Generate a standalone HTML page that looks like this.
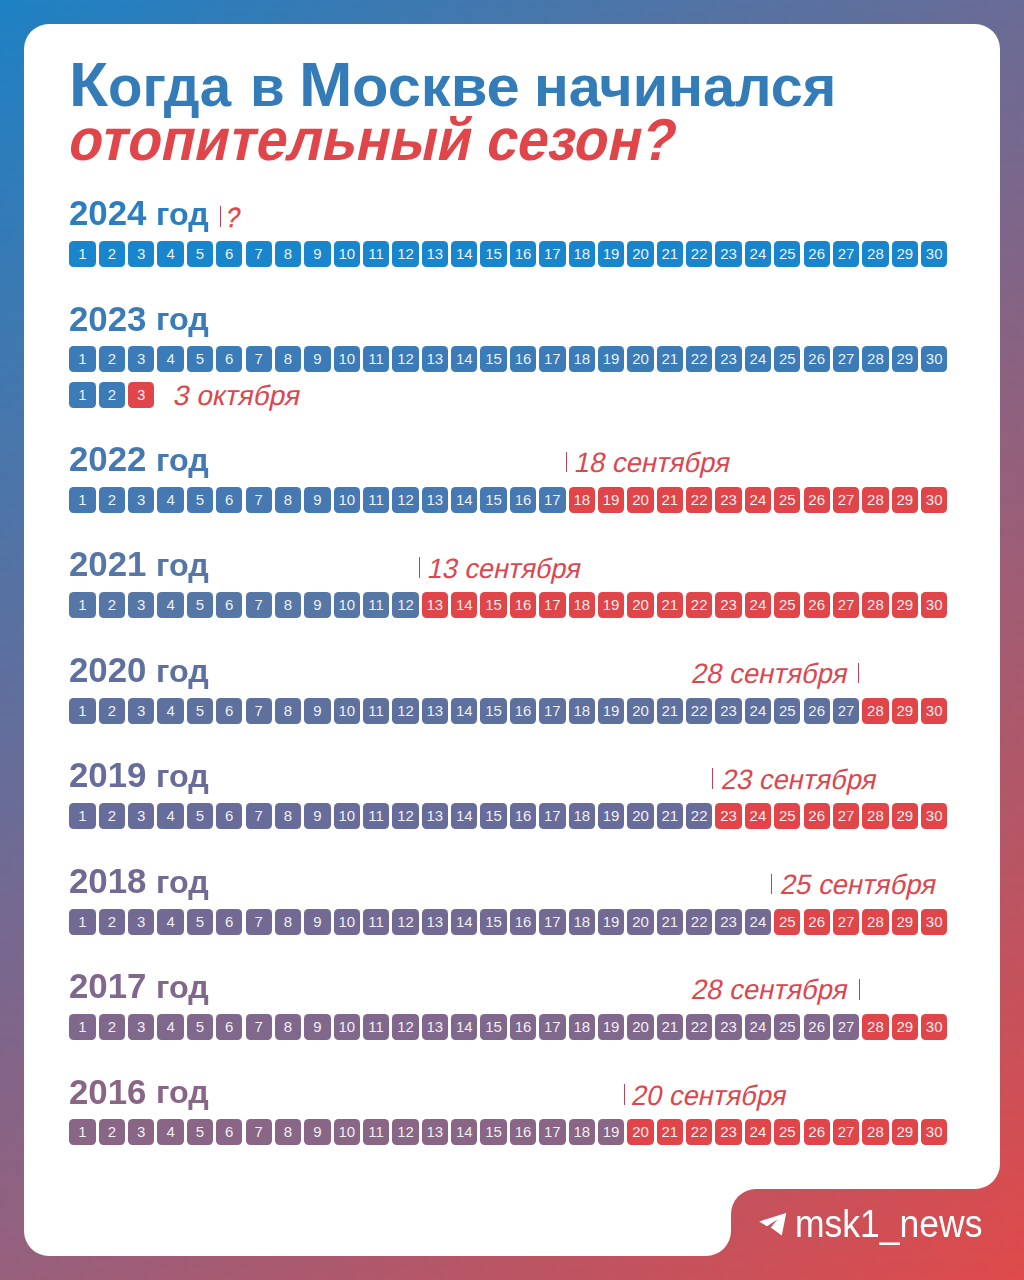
<!DOCTYPE html>
<html><head><meta charset="utf-8"><style>
*{margin:0;padding:0;box-sizing:border-box}
html,body{width:1024px;height:1280px;overflow:hidden}
body{position:relative;font-family:"Liberation Sans",sans-serif;background:#fff}
.bg{position:absolute;left:0;top:0;width:1024px;height:1280px}
.t{position:absolute;white-space:nowrap;line-height:1;transform-origin:0 0}
.b{position:absolute;width:26.3px;height:26px;border-radius:4.5px;color:rgba(255,255,255,0.92);font-size:15px;line-height:26px;text-align:center}
.yr{font-weight:700}
.lb{font-size:28px;color:#dc464e;-webkit-text-stroke:0px #dc464e}
.lbr{transform-origin:100% 0}
.ln{position:absolute;width:1.4px;background:#b9465a}
</style></head>
<body>
<svg class="bg" width="1024" height="1280" viewBox="0 0 1024 1280">
<defs>
<linearGradient id="gt" x1="0" y1="0" x2="1" y2="0">
<stop offset="0" stop-color="#1e82c4"/><stop offset="1" stop-color="#6a6c96"/>
</linearGradient>
<linearGradient id="gb" x1="0" y1="0" x2="1" y2="0">
<stop offset="0" stop-color="#975f7c"/><stop offset="1" stop-color="#e04a4a"/>
</linearGradient>
<linearGradient id="gm" x1="0" y1="0" x2="0" y2="1">
<stop offset="0" stop-color="#000"/><stop offset="1" stop-color="#fff"/>
</linearGradient>
<mask id="mk" maskUnits="userSpaceOnUse" x="0" y="0" width="1024" height="1280"><rect width="1024" height="1280" fill="url(#gm)"/></mask>
</defs>
<rect width="1024" height="1280" fill="url(#gt)"/>
<rect width="1024" height="1280" fill="url(#gb)" mask="url(#mk)"/>
<path fill="#fff" d="M49 24 H975 A25 25 0 0 1 1000 49 V1164 A25 25 0 0 1 975 1189 H756 A25 25 0 0 0 731 1214 V1231 A25 25 0 0 1 706 1256 H49 A25 25 0 0 1 24 1231 V49 A25 25 0 0 1 49 24 Z"/>
</svg>
<div class="t" style="left:69.1px;top:52.99px;font-size:62.5px;font-weight:700;color:#347cb8;transform:scaleX(1.0238)">К</div>
<div class="t" style="left:107.8px;top:56.80px;font-size:58px;font-weight:700;color:#347cb8;transform:scaleX(0.9728)">огда</div>
<div class="t" style="left:249.7px;top:56.80px;font-size:58px;font-weight:700;color:#347cb8;transform:scaleX(0.9728)">в</div>
<div class="t" style="left:299.0px;top:52.99px;font-size:62.5px;font-weight:700;color:#347cb8;transform:scaleX(1.0275)">М</div>
<div class="t" style="left:352.2px;top:56.80px;font-size:58px;font-weight:700;color:#347cb8;transform:scaleX(1.0289)">оскве</div>
<div class="t" style="left:533.6px;top:56.80px;font-size:58px;font-weight:700;color:#347cb8;transform:scaleX(0.9926)">начинался</div>
<div class="t" style="left:64.8px;top:111px;font-size:59px;font-weight:700;color:#e0454a;transform:skewX(-12deg) scaleX(0.9404);transform-origin:0 53.4px">отопительный</div>
<div class="t" style="left:482.8px;top:111px;font-size:59px;font-weight:700;color:#e0454a;transform:skewX(-12deg) scaleX(0.9377);transform-origin:0 53.4px">сезон?</div>
<div class="t yr" style="left:69.25px;top:196.3px;color:#2d7ec0;font-size:35.8px;transform:scaleX(0.9723)">2024</div>
<div class="t yr" style="left:156.2px;top:199.0px;color:#2d7ec0;font-size:31.4px;transform:scaleX(1.0287)">год</div>
<div class="b" style="left:69.30px;top:241.0px;background:#1985cd">1</div><div class="b" style="left:98.67px;top:241.0px;background:#1985cd">2</div><div class="b" style="left:128.04px;top:241.0px;background:#1985cd">3</div><div class="b" style="left:157.41px;top:241.0px;background:#1985cd">4</div><div class="b" style="left:186.78px;top:241.0px;background:#1985cd">5</div><div class="b" style="left:216.15px;top:241.0px;background:#1985cd">6</div><div class="b" style="left:245.52px;top:241.0px;background:#1985cd">7</div><div class="b" style="left:274.89px;top:241.0px;background:#1985cd">8</div><div class="b" style="left:304.26px;top:241.0px;background:#1985cd">9</div><div class="b" style="left:333.63px;top:241.0px;background:#1985cd">10</div><div class="b" style="left:363.00px;top:241.0px;background:#1985cd">11</div><div class="b" style="left:392.37px;top:241.0px;background:#1985cd">12</div><div class="b" style="left:421.74px;top:241.0px;background:#1985cd">13</div><div class="b" style="left:451.11px;top:241.0px;background:#1985cd">14</div><div class="b" style="left:480.48px;top:241.0px;background:#1985cd">15</div><div class="b" style="left:509.85px;top:241.0px;background:#1985cd">16</div><div class="b" style="left:539.22px;top:241.0px;background:#1985cd">17</div><div class="b" style="left:568.59px;top:241.0px;background:#1985cd">18</div><div class="b" style="left:597.96px;top:241.0px;background:#1985cd">19</div><div class="b" style="left:627.33px;top:241.0px;background:#1985cd">20</div><div class="b" style="left:656.70px;top:241.0px;background:#1985cd">21</div><div class="b" style="left:686.07px;top:241.0px;background:#1985cd">22</div><div class="b" style="left:715.44px;top:241.0px;background:#1985cd">23</div><div class="b" style="left:744.81px;top:241.0px;background:#1985cd">24</div><div class="b" style="left:774.18px;top:241.0px;background:#1985cd">25</div><div class="b" style="left:803.55px;top:241.0px;background:#1985cd">26</div><div class="b" style="left:832.92px;top:241.0px;background:#1985cd">27</div><div class="b" style="left:862.29px;top:241.0px;background:#1985cd">28</div><div class="b" style="left:891.66px;top:241.0px;background:#1985cd">29</div><div class="b" style="left:921.03px;top:241.0px;background:#1985cd">30</div>
<div class="ln" style="left:219.75px;top:206.1px;height:20.8px"></div>
<div class="t lb" style="left:223.9px;top:203.6px;-webkit-text-stroke:0.6px #dc464e;transform:skewX(-12deg) scaleX(0.8638);transform-origin:0 25.3px">?</div>
<div class="t yr" style="left:69.25px;top:301.6px;color:#3a7bb8;font-size:35.8px;transform:scaleX(0.9723)">2023</div>
<div class="t yr" style="left:156.2px;top:304.3px;color:#3a7bb8;font-size:31.4px;transform:scaleX(1.0287)">год</div>
<div class="b" style="left:69.30px;top:346.3px;background:#3a7bb8">1</div><div class="b" style="left:98.67px;top:346.3px;background:#3a7bb8">2</div><div class="b" style="left:128.04px;top:346.3px;background:#3a7bb8">3</div><div class="b" style="left:157.41px;top:346.3px;background:#3a7bb8">4</div><div class="b" style="left:186.78px;top:346.3px;background:#3a7bb8">5</div><div class="b" style="left:216.15px;top:346.3px;background:#3a7bb8">6</div><div class="b" style="left:245.52px;top:346.3px;background:#3a7bb8">7</div><div class="b" style="left:274.89px;top:346.3px;background:#3a7bb8">8</div><div class="b" style="left:304.26px;top:346.3px;background:#3a7bb8">9</div><div class="b" style="left:333.63px;top:346.3px;background:#3a7bb8">10</div><div class="b" style="left:363.00px;top:346.3px;background:#3a7bb8">11</div><div class="b" style="left:392.37px;top:346.3px;background:#3a7bb8">12</div><div class="b" style="left:421.74px;top:346.3px;background:#3a7bb8">13</div><div class="b" style="left:451.11px;top:346.3px;background:#3a7bb8">14</div><div class="b" style="left:480.48px;top:346.3px;background:#3a7bb8">15</div><div class="b" style="left:509.85px;top:346.3px;background:#3a7bb8">16</div><div class="b" style="left:539.22px;top:346.3px;background:#3a7bb8">17</div><div class="b" style="left:568.59px;top:346.3px;background:#3a7bb8">18</div><div class="b" style="left:597.96px;top:346.3px;background:#3a7bb8">19</div><div class="b" style="left:627.33px;top:346.3px;background:#3a7bb8">20</div><div class="b" style="left:656.70px;top:346.3px;background:#3a7bb8">21</div><div class="b" style="left:686.07px;top:346.3px;background:#3a7bb8">22</div><div class="b" style="left:715.44px;top:346.3px;background:#3a7bb8">23</div><div class="b" style="left:744.81px;top:346.3px;background:#3a7bb8">24</div><div class="b" style="left:774.18px;top:346.3px;background:#3a7bb8">25</div><div class="b" style="left:803.55px;top:346.3px;background:#3a7bb8">26</div><div class="b" style="left:832.92px;top:346.3px;background:#3a7bb8">27</div><div class="b" style="left:862.29px;top:346.3px;background:#3a7bb8">28</div><div class="b" style="left:891.66px;top:346.3px;background:#3a7bb8">29</div><div class="b" style="left:921.03px;top:346.3px;background:#3a7bb8">30</div>
<div class="b" style="left:69.30px;top:382.0px;background:#3a7bb8">1</div><div class="b" style="left:98.67px;top:382.0px;background:#3a7bb8">2</div><div class="b" style="left:128.04px;top:382.0px;background:#e0454a">3</div>
<div class="t lb" style="left:172.2px;top:382.0px;transform:skewX(-12deg) scaleX(1.0032);transform-origin:0 25.3px">3 октября</div>
<div class="t yr" style="left:69.25px;top:441.9px;color:#4678b2;font-size:35.8px;transform:scaleX(0.9723)">2022</div>
<div class="t yr" style="left:156.2px;top:444.6px;color:#4678b2;font-size:31.4px;transform:scaleX(1.0287)">год</div>
<div class="b" style="left:69.30px;top:486.6px;background:#4678b2">1</div><div class="b" style="left:98.67px;top:486.6px;background:#4678b2">2</div><div class="b" style="left:128.04px;top:486.6px;background:#4678b2">3</div><div class="b" style="left:157.41px;top:486.6px;background:#4678b2">4</div><div class="b" style="left:186.78px;top:486.6px;background:#4678b2">5</div><div class="b" style="left:216.15px;top:486.6px;background:#4678b2">6</div><div class="b" style="left:245.52px;top:486.6px;background:#4678b2">7</div><div class="b" style="left:274.89px;top:486.6px;background:#4678b2">8</div><div class="b" style="left:304.26px;top:486.6px;background:#4678b2">9</div><div class="b" style="left:333.63px;top:486.6px;background:#4678b2">10</div><div class="b" style="left:363.00px;top:486.6px;background:#4678b2">11</div><div class="b" style="left:392.37px;top:486.6px;background:#4678b2">12</div><div class="b" style="left:421.74px;top:486.6px;background:#4678b2">13</div><div class="b" style="left:451.11px;top:486.6px;background:#4678b2">14</div><div class="b" style="left:480.48px;top:486.6px;background:#4678b2">15</div><div class="b" style="left:509.85px;top:486.6px;background:#4678b2">16</div><div class="b" style="left:539.22px;top:486.6px;background:#4678b2">17</div><div class="b" style="left:568.59px;top:486.6px;background:#e0454a">18</div><div class="b" style="left:597.96px;top:486.6px;background:#e0454a">19</div><div class="b" style="left:627.33px;top:486.6px;background:#e0454a">20</div><div class="b" style="left:656.70px;top:486.6px;background:#e0454a">21</div><div class="b" style="left:686.07px;top:486.6px;background:#e0454a">22</div><div class="b" style="left:715.44px;top:486.6px;background:#e0454a">23</div><div class="b" style="left:744.81px;top:486.6px;background:#e0454a">24</div><div class="b" style="left:774.18px;top:486.6px;background:#e0454a">25</div><div class="b" style="left:803.55px;top:486.6px;background:#e0454a">26</div><div class="b" style="left:832.92px;top:486.6px;background:#e0454a">27</div><div class="b" style="left:862.29px;top:486.6px;background:#e0454a">28</div><div class="b" style="left:891.66px;top:486.6px;background:#e0454a">29</div><div class="b" style="left:921.03px;top:486.6px;background:#e0454a">30</div>
<div class="ln" style="left:565.95px;top:451.7px;height:20.8px"></div>
<div class="t lb" style="left:572.6px;top:449.2px;transform:skewX(-12deg) scaleX(0.9784);transform-origin:0 25.3px">18 сентября</div>
<div class="t yr" style="left:69.25px;top:547.4px;color:#5677a5;font-size:35.8px;transform:scaleX(0.9723)">2021</div>
<div class="t yr" style="left:156.2px;top:550.1px;color:#5677a5;font-size:31.4px;transform:scaleX(1.0287)">год</div>
<div class="b" style="left:69.30px;top:592.1px;background:#5677a5">1</div><div class="b" style="left:98.67px;top:592.1px;background:#5677a5">2</div><div class="b" style="left:128.04px;top:592.1px;background:#5677a5">3</div><div class="b" style="left:157.41px;top:592.1px;background:#5677a5">4</div><div class="b" style="left:186.78px;top:592.1px;background:#5677a5">5</div><div class="b" style="left:216.15px;top:592.1px;background:#5677a5">6</div><div class="b" style="left:245.52px;top:592.1px;background:#5677a5">7</div><div class="b" style="left:274.89px;top:592.1px;background:#5677a5">8</div><div class="b" style="left:304.26px;top:592.1px;background:#5677a5">9</div><div class="b" style="left:333.63px;top:592.1px;background:#5677a5">10</div><div class="b" style="left:363.00px;top:592.1px;background:#5677a5">11</div><div class="b" style="left:392.37px;top:592.1px;background:#5677a5">12</div><div class="b" style="left:421.74px;top:592.1px;background:#e0454a">13</div><div class="b" style="left:451.11px;top:592.1px;background:#e0454a">14</div><div class="b" style="left:480.48px;top:592.1px;background:#e0454a">15</div><div class="b" style="left:509.85px;top:592.1px;background:#e0454a">16</div><div class="b" style="left:539.22px;top:592.1px;background:#e0454a">17</div><div class="b" style="left:568.59px;top:592.1px;background:#e0454a">18</div><div class="b" style="left:597.96px;top:592.1px;background:#e0454a">19</div><div class="b" style="left:627.33px;top:592.1px;background:#e0454a">20</div><div class="b" style="left:656.70px;top:592.1px;background:#e0454a">21</div><div class="b" style="left:686.07px;top:592.1px;background:#e0454a">22</div><div class="b" style="left:715.44px;top:592.1px;background:#e0454a">23</div><div class="b" style="left:744.81px;top:592.1px;background:#e0454a">24</div><div class="b" style="left:774.18px;top:592.1px;background:#e0454a">25</div><div class="b" style="left:803.55px;top:592.1px;background:#e0454a">26</div><div class="b" style="left:832.92px;top:592.1px;background:#e0454a">27</div><div class="b" style="left:862.29px;top:592.1px;background:#e0454a">28</div><div class="b" style="left:891.66px;top:592.1px;background:#e0454a">29</div><div class="b" style="left:921.03px;top:592.1px;background:#e0454a">30</div>
<div class="ln" style="left:418.85px;top:557.2px;height:20.8px"></div>
<div class="t lb" style="left:426.3px;top:554.7px;transform:skewX(-12deg) scaleX(0.9656);transform-origin:0 25.3px">13 сентября</div>
<div class="t yr" style="left:69.25px;top:652.9px;color:#5e719e;font-size:35.8px;transform:scaleX(0.9723)">2020</div>
<div class="t yr" style="left:156.2px;top:655.6px;color:#5e719e;font-size:31.4px;transform:scaleX(1.0287)">год</div>
<div class="b" style="left:69.30px;top:697.6px;background:#5e719e">1</div><div class="b" style="left:98.67px;top:697.6px;background:#5e719e">2</div><div class="b" style="left:128.04px;top:697.6px;background:#5e719e">3</div><div class="b" style="left:157.41px;top:697.6px;background:#5e719e">4</div><div class="b" style="left:186.78px;top:697.6px;background:#5e719e">5</div><div class="b" style="left:216.15px;top:697.6px;background:#5e719e">6</div><div class="b" style="left:245.52px;top:697.6px;background:#5e719e">7</div><div class="b" style="left:274.89px;top:697.6px;background:#5e719e">8</div><div class="b" style="left:304.26px;top:697.6px;background:#5e719e">9</div><div class="b" style="left:333.63px;top:697.6px;background:#5e719e">10</div><div class="b" style="left:363.00px;top:697.6px;background:#5e719e">11</div><div class="b" style="left:392.37px;top:697.6px;background:#5e719e">12</div><div class="b" style="left:421.74px;top:697.6px;background:#5e719e">13</div><div class="b" style="left:451.11px;top:697.6px;background:#5e719e">14</div><div class="b" style="left:480.48px;top:697.6px;background:#5e719e">15</div><div class="b" style="left:509.85px;top:697.6px;background:#5e719e">16</div><div class="b" style="left:539.22px;top:697.6px;background:#5e719e">17</div><div class="b" style="left:568.59px;top:697.6px;background:#5e719e">18</div><div class="b" style="left:597.96px;top:697.6px;background:#5e719e">19</div><div class="b" style="left:627.33px;top:697.6px;background:#5e719e">20</div><div class="b" style="left:656.70px;top:697.6px;background:#5e719e">21</div><div class="b" style="left:686.07px;top:697.6px;background:#5e719e">22</div><div class="b" style="left:715.44px;top:697.6px;background:#5e719e">23</div><div class="b" style="left:744.81px;top:697.6px;background:#5e719e">24</div><div class="b" style="left:774.18px;top:697.6px;background:#5e719e">25</div><div class="b" style="left:803.55px;top:697.6px;background:#5e719e">26</div><div class="b" style="left:832.92px;top:697.6px;background:#5e719e">27</div><div class="b" style="left:862.29px;top:697.6px;background:#e0454a">28</div><div class="b" style="left:891.66px;top:697.6px;background:#e0454a">29</div><div class="b" style="left:921.03px;top:697.6px;background:#e0454a">30</div>
<div class="ln" style="left:858.05px;top:662.7px;height:20.8px"></div>
<div class="t lb" style="left:689.9px;top:660.2px;transform:skewX(-12deg) scaleX(0.9835);transform-origin:0 25.3px">28 сентября</div>
<div class="t yr" style="left:69.25px;top:758.4px;color:#686c9a;font-size:35.8px;transform:scaleX(0.9723)">2019</div>
<div class="t yr" style="left:156.2px;top:761.1px;color:#686c9a;font-size:31.4px;transform:scaleX(1.0287)">год</div>
<div class="b" style="left:69.30px;top:803.1px;background:#686c9a">1</div><div class="b" style="left:98.67px;top:803.1px;background:#686c9a">2</div><div class="b" style="left:128.04px;top:803.1px;background:#686c9a">3</div><div class="b" style="left:157.41px;top:803.1px;background:#686c9a">4</div><div class="b" style="left:186.78px;top:803.1px;background:#686c9a">5</div><div class="b" style="left:216.15px;top:803.1px;background:#686c9a">6</div><div class="b" style="left:245.52px;top:803.1px;background:#686c9a">7</div><div class="b" style="left:274.89px;top:803.1px;background:#686c9a">8</div><div class="b" style="left:304.26px;top:803.1px;background:#686c9a">9</div><div class="b" style="left:333.63px;top:803.1px;background:#686c9a">10</div><div class="b" style="left:363.00px;top:803.1px;background:#686c9a">11</div><div class="b" style="left:392.37px;top:803.1px;background:#686c9a">12</div><div class="b" style="left:421.74px;top:803.1px;background:#686c9a">13</div><div class="b" style="left:451.11px;top:803.1px;background:#686c9a">14</div><div class="b" style="left:480.48px;top:803.1px;background:#686c9a">15</div><div class="b" style="left:509.85px;top:803.1px;background:#686c9a">16</div><div class="b" style="left:539.22px;top:803.1px;background:#686c9a">17</div><div class="b" style="left:568.59px;top:803.1px;background:#686c9a">18</div><div class="b" style="left:597.96px;top:803.1px;background:#686c9a">19</div><div class="b" style="left:627.33px;top:803.1px;background:#686c9a">20</div><div class="b" style="left:656.70px;top:803.1px;background:#686c9a">21</div><div class="b" style="left:686.07px;top:803.1px;background:#686c9a">22</div><div class="b" style="left:715.44px;top:803.1px;background:#e0454a">23</div><div class="b" style="left:744.81px;top:803.1px;background:#e0454a">24</div><div class="b" style="left:774.18px;top:803.1px;background:#e0454a">25</div><div class="b" style="left:803.55px;top:803.1px;background:#e0454a">26</div><div class="b" style="left:832.92px;top:803.1px;background:#e0454a">27</div><div class="b" style="left:862.29px;top:803.1px;background:#e0454a">28</div><div class="b" style="left:891.66px;top:803.1px;background:#e0454a">29</div><div class="b" style="left:921.03px;top:803.1px;background:#e0454a">30</div>
<div class="ln" style="left:712.05px;top:768.2px;height:20.8px"></div>
<div class="t lb" style="left:719.5px;top:765.7px;transform:skewX(-12deg) scaleX(0.976);transform-origin:0 25.3px">23 сентября</div>
<div class="t yr" style="left:69.25px;top:863.9px;color:#726a92;font-size:35.8px;transform:scaleX(0.9723)">2018</div>
<div class="t yr" style="left:156.2px;top:866.6px;color:#726a92;font-size:31.4px;transform:scaleX(1.0287)">год</div>
<div class="b" style="left:69.30px;top:908.6px;background:#726a92">1</div><div class="b" style="left:98.67px;top:908.6px;background:#726a92">2</div><div class="b" style="left:128.04px;top:908.6px;background:#726a92">3</div><div class="b" style="left:157.41px;top:908.6px;background:#726a92">4</div><div class="b" style="left:186.78px;top:908.6px;background:#726a92">5</div><div class="b" style="left:216.15px;top:908.6px;background:#726a92">6</div><div class="b" style="left:245.52px;top:908.6px;background:#726a92">7</div><div class="b" style="left:274.89px;top:908.6px;background:#726a92">8</div><div class="b" style="left:304.26px;top:908.6px;background:#726a92">9</div><div class="b" style="left:333.63px;top:908.6px;background:#726a92">10</div><div class="b" style="left:363.00px;top:908.6px;background:#726a92">11</div><div class="b" style="left:392.37px;top:908.6px;background:#726a92">12</div><div class="b" style="left:421.74px;top:908.6px;background:#726a92">13</div><div class="b" style="left:451.11px;top:908.6px;background:#726a92">14</div><div class="b" style="left:480.48px;top:908.6px;background:#726a92">15</div><div class="b" style="left:509.85px;top:908.6px;background:#726a92">16</div><div class="b" style="left:539.22px;top:908.6px;background:#726a92">17</div><div class="b" style="left:568.59px;top:908.6px;background:#726a92">18</div><div class="b" style="left:597.96px;top:908.6px;background:#726a92">19</div><div class="b" style="left:627.33px;top:908.6px;background:#726a92">20</div><div class="b" style="left:656.70px;top:908.6px;background:#726a92">21</div><div class="b" style="left:686.07px;top:908.6px;background:#726a92">22</div><div class="b" style="left:715.44px;top:908.6px;background:#726a92">23</div><div class="b" style="left:744.81px;top:908.6px;background:#726a92">24</div><div class="b" style="left:774.18px;top:908.6px;background:#e0454a">25</div><div class="b" style="left:803.55px;top:908.6px;background:#e0454a">26</div><div class="b" style="left:832.92px;top:908.6px;background:#e0454a">27</div><div class="b" style="left:862.29px;top:908.6px;background:#e0454a">28</div><div class="b" style="left:891.66px;top:908.6px;background:#e0454a">29</div><div class="b" style="left:921.03px;top:908.6px;background:#e0454a">30</div>
<div class="ln" style="left:770.65px;top:873.7px;height:20.8px"></div>
<div class="t lb" style="left:779.1px;top:871.2px;transform:skewX(-12deg) scaleX(0.9798);transform-origin:0 25.3px">25 сентября</div>
<div class="t yr" style="left:69.25px;top:969.0px;color:#7f688c;font-size:35.8px;transform:scaleX(0.9723)">2017</div>
<div class="t yr" style="left:156.2px;top:971.7px;color:#7f688c;font-size:31.4px;transform:scaleX(1.0287)">год</div>
<div class="b" style="left:69.30px;top:1013.7px;background:#7f688c">1</div><div class="b" style="left:98.67px;top:1013.7px;background:#7f688c">2</div><div class="b" style="left:128.04px;top:1013.7px;background:#7f688c">3</div><div class="b" style="left:157.41px;top:1013.7px;background:#7f688c">4</div><div class="b" style="left:186.78px;top:1013.7px;background:#7f688c">5</div><div class="b" style="left:216.15px;top:1013.7px;background:#7f688c">6</div><div class="b" style="left:245.52px;top:1013.7px;background:#7f688c">7</div><div class="b" style="left:274.89px;top:1013.7px;background:#7f688c">8</div><div class="b" style="left:304.26px;top:1013.7px;background:#7f688c">9</div><div class="b" style="left:333.63px;top:1013.7px;background:#7f688c">10</div><div class="b" style="left:363.00px;top:1013.7px;background:#7f688c">11</div><div class="b" style="left:392.37px;top:1013.7px;background:#7f688c">12</div><div class="b" style="left:421.74px;top:1013.7px;background:#7f688c">13</div><div class="b" style="left:451.11px;top:1013.7px;background:#7f688c">14</div><div class="b" style="left:480.48px;top:1013.7px;background:#7f688c">15</div><div class="b" style="left:509.85px;top:1013.7px;background:#7f688c">16</div><div class="b" style="left:539.22px;top:1013.7px;background:#7f688c">17</div><div class="b" style="left:568.59px;top:1013.7px;background:#7f688c">18</div><div class="b" style="left:597.96px;top:1013.7px;background:#7f688c">19</div><div class="b" style="left:627.33px;top:1013.7px;background:#7f688c">20</div><div class="b" style="left:656.70px;top:1013.7px;background:#7f688c">21</div><div class="b" style="left:686.07px;top:1013.7px;background:#7f688c">22</div><div class="b" style="left:715.44px;top:1013.7px;background:#7f688c">23</div><div class="b" style="left:744.81px;top:1013.7px;background:#7f688c">24</div><div class="b" style="left:774.18px;top:1013.7px;background:#7f688c">25</div><div class="b" style="left:803.55px;top:1013.7px;background:#7f688c">26</div><div class="b" style="left:832.92px;top:1013.7px;background:#7f688c">27</div><div class="b" style="left:862.29px;top:1013.7px;background:#e0454a">28</div><div class="b" style="left:891.66px;top:1013.7px;background:#e0454a">29</div><div class="b" style="left:921.03px;top:1013.7px;background:#e0454a">30</div>
<div class="ln" style="left:858.65px;top:978.8px;height:20.8px"></div>
<div class="t lb" style="left:690.1px;top:976.3px;transform:skewX(-12deg) scaleX(0.9835);transform-origin:0 25.3px">28 сентября</div>
<div class="t yr" style="left:69.25px;top:1074.5px;color:#896686;font-size:35.8px;transform:scaleX(0.9723)">2016</div>
<div class="t yr" style="left:156.2px;top:1077.2px;color:#896686;font-size:31.4px;transform:scaleX(1.0287)">год</div>
<div class="b" style="left:69.30px;top:1119.2px;background:#896686">1</div><div class="b" style="left:98.67px;top:1119.2px;background:#896686">2</div><div class="b" style="left:128.04px;top:1119.2px;background:#896686">3</div><div class="b" style="left:157.41px;top:1119.2px;background:#896686">4</div><div class="b" style="left:186.78px;top:1119.2px;background:#896686">5</div><div class="b" style="left:216.15px;top:1119.2px;background:#896686">6</div><div class="b" style="left:245.52px;top:1119.2px;background:#896686">7</div><div class="b" style="left:274.89px;top:1119.2px;background:#896686">8</div><div class="b" style="left:304.26px;top:1119.2px;background:#896686">9</div><div class="b" style="left:333.63px;top:1119.2px;background:#896686">10</div><div class="b" style="left:363.00px;top:1119.2px;background:#896686">11</div><div class="b" style="left:392.37px;top:1119.2px;background:#896686">12</div><div class="b" style="left:421.74px;top:1119.2px;background:#896686">13</div><div class="b" style="left:451.11px;top:1119.2px;background:#896686">14</div><div class="b" style="left:480.48px;top:1119.2px;background:#896686">15</div><div class="b" style="left:509.85px;top:1119.2px;background:#896686">16</div><div class="b" style="left:539.22px;top:1119.2px;background:#896686">17</div><div class="b" style="left:568.59px;top:1119.2px;background:#896686">18</div><div class="b" style="left:597.96px;top:1119.2px;background:#896686">19</div><div class="b" style="left:627.33px;top:1119.2px;background:#e0454a">20</div><div class="b" style="left:656.70px;top:1119.2px;background:#e0454a">21</div><div class="b" style="left:686.07px;top:1119.2px;background:#e0454a">22</div><div class="b" style="left:715.44px;top:1119.2px;background:#e0454a">23</div><div class="b" style="left:744.81px;top:1119.2px;background:#e0454a">24</div><div class="b" style="left:774.18px;top:1119.2px;background:#e0454a">25</div><div class="b" style="left:803.55px;top:1119.2px;background:#e0454a">26</div><div class="b" style="left:832.92px;top:1119.2px;background:#e0454a">27</div><div class="b" style="left:862.29px;top:1119.2px;background:#e0454a">28</div><div class="b" style="left:891.66px;top:1119.2px;background:#e0454a">29</div><div class="b" style="left:921.03px;top:1119.2px;background:#e0454a">30</div>
<div class="ln" style="left:623.75px;top:1084.3px;height:20.8px"></div>
<div class="t lb" style="left:629.5px;top:1081.8px;transform:skewX(-12deg) scaleX(0.976);transform-origin:0 25.3px">20 сентября</div>
<svg style="position:absolute;left:755px;top:1205px" width="40" height="35" viewBox="0 0 40 35"><path fill="#fff" d="M31.2 7.9 L4.2 16.4 L12 21.3 L22.4 14.4 L15.8 22.6 L26.8 30.5 Z"/></svg>
<div class="t" style="left:795.2px;top:1204.6px;font-size:38.5px;color:#fff;transform:scaleX(0.922)">msk1_news</div>
</body></html>
